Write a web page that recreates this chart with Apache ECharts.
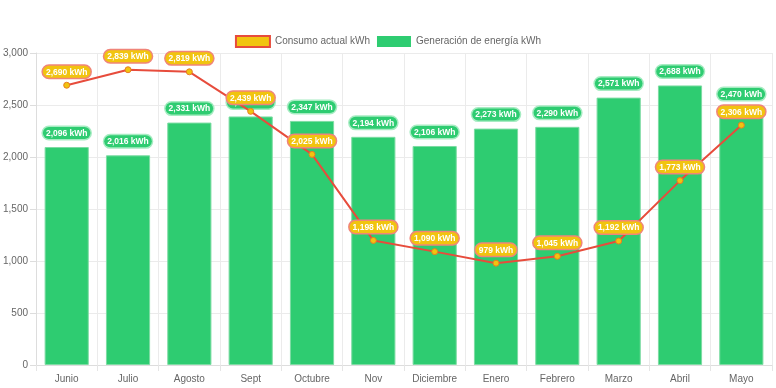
<!DOCTYPE html>
<html><head><meta charset="utf-8">
<script src="https://cdn.jsdelivr.net/npm/echarts@6/dist/echarts.min.js"></script>
<style>html,body{margin:0;padding:0;background:#fff}#c{width:776px;height:388px}</style>
</head><body><div id="c"></div>
<script>
const categories = ['Junio','Julio','Agosto','Sept','Octubre','Nov','Diciembre','Enero','Febrero','Marzo','Abril','Mayo'];
const consumo = [2690, 2839, 2819, 2439, 2025, 1198, 1090, 979, 1045, 1192, 1773, 2306];
const generacion = [2096, 2016, 2331, 2390, 2347, 2194, 2106, 2273, 2290, 2571, 2688, 2470];
const yTicks = [0, 500, 1000, 1500, 2000, 2500, 3000];

const fmt = v => v.toLocaleString('en-US') + ' kWh';
const chart = echarts.init(document.getElementById('c'));
chart.setOption({
  animation: false,
  textStyle: {fontFamily: '"Liberation Sans", Arial, Helvetica, sans-serif'},
  legend: {
    top: 30, left: 'center', itemWidth: 34, itemHeight: 11, itemGap: 7,
    textStyle: {color: '#666', fontSize: 10},
    data: [
      {name: 'Consumo actual kWh', icon: 'rect', itemStyle: {color: '#f1c40f', borderColor: '#e74c3c', borderWidth: 2}, lineStyle: {width: 0}},
      {name: 'Generación de energía kWh', icon: 'rect', itemStyle: {color: '#2ecc71', borderWidth: 0}}
    ]
  },
  grid: {left: 35, right: 4, top: 53, bottom: 23, containLabel: false},
  xAxis: {
    type: 'category', data: categories, boundaryGap: true,
    axisLine: {lineStyle: {color: '#ddd'}},
    axisTick: {show: true, length: 6, lineStyle: {color: '#e5e5e5'}},
    splitLine: {show: true, lineStyle: {color: '#ebebeb'}},
    axisLabel: {color: '#666', fontSize: 10, margin: 9, interval: 0}
  },
  yAxis: {
    type: 'value', min: yTicks[0], max: yTicks[yTicks.length-1], interval: 500,
    axisLine: {show: true, lineStyle: {color: '#ddd'}},
    axisTick: {show: true, length: 6, lineStyle: {color: '#ddd'}},
    splitLine: {lineStyle: {color: '#ebebeb'}},
    axisLabel: {color: '#666', fontSize: 10, margin: 8, formatter: v => v.toLocaleString('en-US')}
  },
  series: [
    {
      name: 'Consumo actual kWh', type: 'line', data: consumo, z: 5,
      lineStyle: {color: '#e74c3c', width: 2},
      itemStyle: {color: '#f1c40f', borderColor: '#e67e22', borderWidth: 1},
      symbol: 'circle', symbolSize: 6,
      label: {
        show: true, position: 'top', distance: 4, formatter: p => fmt(p.value),
        color: '#fff', fontWeight: 'bold', fontSize: 8.5,
        backgroundColor: '#f1c40f', borderColor: '#f0857a', borderWidth: 1.5,
        borderRadius: 6, padding: [2, 3, 1, 3]
      }
    },
    {
      name: 'Generación de energía kWh', type: 'bar', data: generacion, z: 2,
      barWidth: '72%',
      itemStyle: {color: '#2ecc71', borderColor: '#7ddca3', borderWidth: 1},
      label: {
        show: true, position: 'top', distance: 8, formatter: p => fmt(p.value),
        color: '#fff', fontWeight: 'bold', fontSize: 8.5,
        backgroundColor: '#2ecc71', borderColor: '#a6ecc2', borderWidth: 1.5,
        borderRadius: 6, padding: [2, 3, 1, 3]
      }
    }
  ]
});
</script></body></html>
